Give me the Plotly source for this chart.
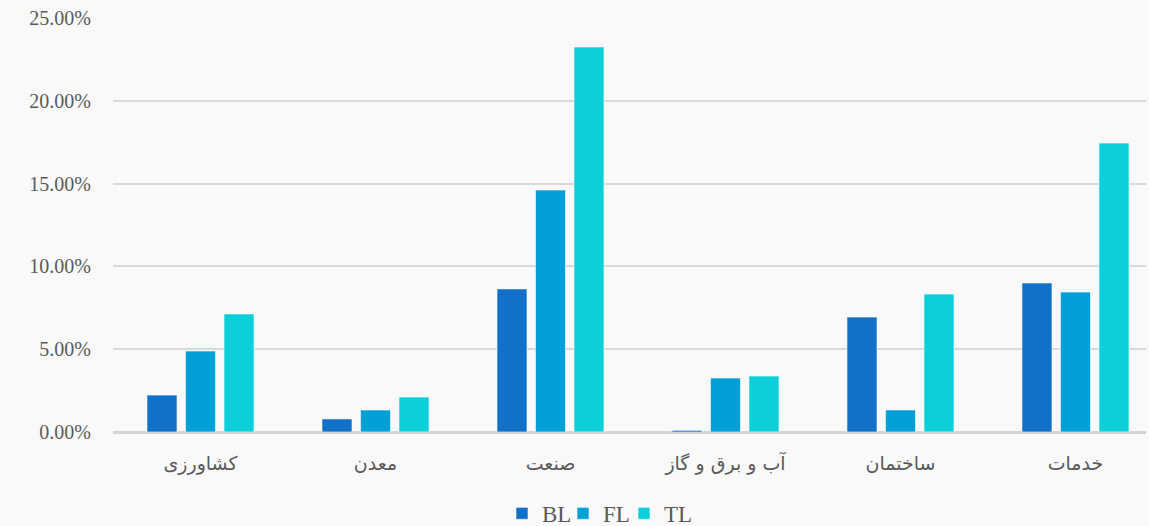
import plotly.graph_objects as go

categories = ["کشاورزی", "معدن", "صنعت", "آب و برق و گاز", "ساختمان", "خدمات"]
bl = [0.0223, 0.0079, 0.0864, 0.0010, 0.0694, 0.0900]
fl = [0.0489, 0.0133, 0.1461, 0.0326, 0.0133, 0.0845]
tl = [0.0713, 0.0211, 0.2325, 0.0338, 0.0833, 0.1745]
series_names = ["BL", "FL", "TL"]
colors = ["#1170C8", "#029FD8", "#0DCFD9"]

fig = go.Figure()
for name, vals, col in zip(series_names, [bl, fl, tl], colors):
    fig.add_trace(go.Bar(x=categories, y=vals, name=name,
                         marker=dict(color=col, line=dict(color="rgba(255,255,255,0.6)", width=1))))
# invisible spacer entry so the last legend label is not clipped
fig.add_trace(go.Scatter(x=[None], y=[None], mode="markers", name="\u00a0",
                         marker=dict(color="rgba(0,0,0,0)"), hoverinfo="skip"))

fig.update_layout(
    width=1149, height=526,
    margin=dict(l=113, r=3, t=18, b=94, autoexpand=False),
    paper_bgcolor="#f9f9f9", plot_bgcolor="#f9f9f9",
    barmode="group", bargap=0.34, bargroupgap=0.22,
    font=dict(family="Liberation Serif", color="#595959"),
    legend=dict(orientation="h", x=502 / 1149, xanchor="left", xref="container",
                y=0.024, yanchor="middle", yref="container",
                font=dict(size=23, family="Liberation Serif", color="#595959"),
                traceorder="normal", tracegroupgap=0, itemwidth=30,
                entrywidth=16, entrywidthmode="pixels"),
    showlegend=True,
)
fig.update_xaxes(tickfont=dict(family="DejaVu Sans", size=19, color="#595959"),
                 range=[-0.5, 5.403],
                 showgrid=False, showline=False, ticks="", ticklabelstandoff=18)
fig.update_yaxes(range=[0, 0.25], dtick=0.05, tickformat=".2%",
                 tickfont=dict(family="Liberation Serif", size=20, color="#595959"),
                 showgrid=True, gridcolor="#d9d9d9", gridwidth=1.5,
                 zeroline=True, zerolinecolor="#d4d4d4", zerolinewidth=3,
                 ticklabelstandoff=21)
fig.write_html("out.html", config={"displayModeBar": False},
               post_script="document.body.style.margin='0';")
